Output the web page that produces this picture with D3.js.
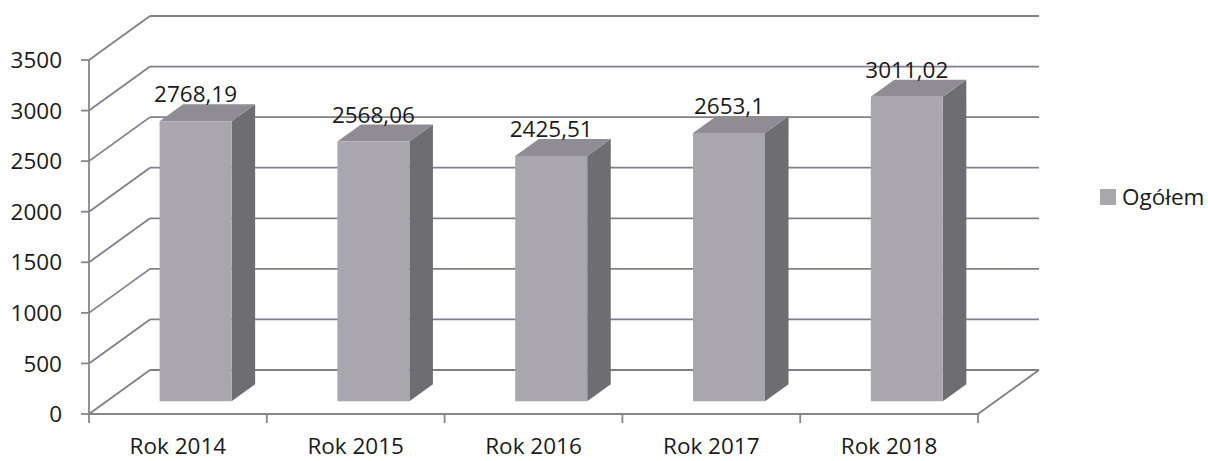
<!DOCTYPE html>
<html>
<head>
<meta charset="utf-8">
<script src="https://cdn.jsdelivr.net/npm/d3@7"></script>
<style>
  html, body { margin: 0; padding: 0; background: #ffffff; }
  svg { display: block; }
  text { font-family: "Open Sans", sans-serif; fill: #1a1a1a; }
</style>
</head>
<body>
<svg id="chart" width="1208" height="461"></svg>
<script>
const categories = ["Rok 2014", "Rok 2015", "Rok 2016", "Rok 2017", "Rok 2018"];
const values = [2768.19, 2568.06, 2425.51, 2653.1, 3011.02];
const valueLabels = ["2768,19", "2568,06", "2425,51", "2653,1", "3011,02"];
const yTicks = [0, 500, 1000, 1500, 2000, 2500, 3000, 3500];
const seriesName = "Ogółem";

const svg = d3.select("#chart");

// front plane scales
const x = d3.scaleBand().domain(categories).range([89, 978]).paddingInner(0).paddingOuter(0);
const y = d3.scaleLinear().domain([0, 3500]).range([414, 60]);

// depth projection
const DX = 61, DY = -44;
const proj = (px, py, z) => [px + DX * z, py + DY * z];

const gridColor = "#7f7f8e";
const axisColor = "#85858c";
const FS = 22.5;

const g = svg.append("g");

// back wall gridlines + left wall diagonals
yTicks.forEach(t => {
  const a = proj(x.range()[0], y(t), 1), b = proj(x.range()[1], y(t), 1);
  g.append("line").attr("x1", a[0]).attr("y1", a[1]).attr("x2", b[0]).attr("y2", b[1])
    .attr("stroke", gridColor).attr("stroke-width", 1.8);
  const c = proj(x.range()[0], y(t), 0);
  g.append("line").attr("x1", c[0]).attr("y1", c[1]).attr("x2", a[0]).attr("y2", a[1])
    .attr("stroke", gridColor).attr("stroke-width", 1.8);
});

// floor right edge
{
  const a = proj(x.range()[1], y(0), 0), b = proj(x.range()[1], y(0), 1);
  g.append("line").attr("x1", a[0]).attr("y1", a[1]).attr("x2", b[0]).attr("y2", b[1])
    .attr("stroke", gridColor).attr("stroke-width", 1.8);
}

// front axes
g.append("line").attr("x1", 89).attr("y1", y(3500)).attr("x2", 89).attr("y2", y(0))
  .attr("stroke", axisColor).attr("stroke-width", 1.8);
g.append("line").attr("x1", x.range()[0]).attr("y1", y(0)).attr("x2", x.range()[1]).attr("y2", y(0))
  .attr("stroke", axisColor).attr("stroke-width", 1.8);

// y ticks + labels
yTicks.forEach(t => {
  g.append("line").attr("x1", 81).attr("x2", 89).attr("y1", y(t)).attr("y2", y(t))
    .attr("stroke", axisColor).attr("stroke-width", 1.8);
  g.append("text").attr("x", 62).attr("y", y(t)).attr("dy", "0.36em")
    .attr("text-anchor", "end").attr("font-size", FS).text(t);
});

// x ticks
const bounds = categories.map(c => x(c)).concat([x.range()[1]]);
bounds.forEach(bx => {
  g.append("line").attr("x1", bx).attr("x2", bx).attr("y1", y(0)).attr("y2", y(0) + 9)
    .attr("stroke", axisColor).attr("stroke-width", 1.8);
});
categories.forEach(c => {
  g.append("text").attr("x", x(c) + x.bandwidth() / 2).attr("y", 454)
    .attr("text-anchor", "middle").attr("font-size", FS).text(c);
});

// bars
const z0 = 0.29, z1 = 0.676;
const barW = x.bandwidth() * 0.405;
const frontCol = "#a9a7ad", sideCol = "#6e6d72", topCol = "#8f8d93";

categories.forEach((c, i) => {
  const cx = x(c) + x.bandwidth() / 2;
  const xl = cx - barW / 2, xr = cx + barW / 2;
  const yb = y(0), yt = y(values[i]);
  const P = (px, py, z) => proj(px, py, z).join(",");
  g.append("polygon")
    .attr("points", [P(xr, yb, z0), P(xr, yb, z1), P(xr, yt, z1), P(xr, yt, z0)].join(" "))
    .attr("fill", sideCol);
  g.append("polygon")
    .attr("points", [P(xl, yt, z0), P(xr, yt, z0), P(xr, yt, z1), P(xl, yt, z1)].join(" "))
    .attr("fill", topCol);
  g.append("polygon")
    .attr("points", [P(xl, yb, z0), P(xr, yb, z0), P(xr, yt, z0), P(xl, yt, z0)].join(" "))
    .attr("fill", frontCol);
  const lp = proj(cx, yt, z1);
  const fp = proj(cx, yt, z0);
  g.append("text").attr("x", fp[0]).attr("y", lp[1] - 2)
    .attr("text-anchor", "middle").attr("font-size", FS).text(valueLabels[i]);
});

// legend
svg.append("rect").attr("x", 1100).attr("y", 189).attr("width", 16).attr("height", 16)
  .attr("fill", frontCol);
svg.append("text").attr("x", 1122).attr("y", 197).attr("dy", "0.36em")
  .attr("font-size", FS).text(seriesName);
</script>
</body>
</html>
